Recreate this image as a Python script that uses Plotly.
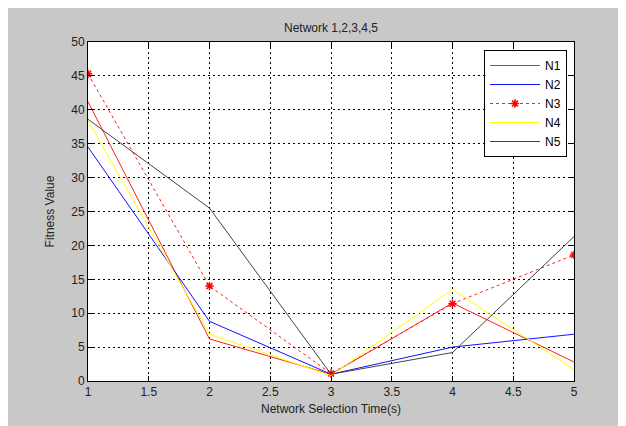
import plotly.graph_objects as go

x_vals = [1, 2, 3, 4, 5]
n1 = [41.2, 6.2, 1.0, 11.5, 2.8]
n2 = [34.5, 8.8, 1.0, 5.0, 6.9]
n3 = [45.3, 14.0, 1.1, 11.4, 18.6]
n4 = [38.4, 6.9, 0.8, 13.5, 1.7]
n5 = [38.6, 25.5, 1.0, 4.2, 21.3]
x_ticks = [1, 1.5, 2, 2.5, 3, 3.5, 4, 4.5, 5]
x_tick_text = ["1", "1.5", "2", "2.5", "3", "3.5", "4", "4.5", "5"]
y_ticks = [0, 5, 10, 15, 20, 25, 30, 35, 40, 45, 50]

FONT = "Liberation Sans, Arial, sans-serif"

fig = go.Figure()
fig.add_trace(go.Scatter(x=x_vals, y=n1, name="N1", mode="lines",
                         line=dict(color="#ff2020", width=1)))
fig.add_trace(go.Scatter(x=x_vals, y=n2, name="N2", mode="lines",
                         line=dict(color="#1010ff", width=1)))
fig.add_trace(go.Scatter(x=x_vals, y=n3, name="N3", mode="lines+markers",
                         line=dict(color="#ff2020", width=1, dash="3px,3px"),
                         marker=dict(symbol="asterisk-open", size=7,
                                     color="#ff0000",
                                     line=dict(color="#ff0000", width=1.5))))
fig.add_trace(go.Scatter(x=x_vals, y=n4, name="N4", mode="lines",
                         line=dict(color="#ffff00", width=1)))
fig.add_trace(go.Scatter(x=x_vals, y=n5, name="N5", mode="lines",
                         line=dict(color="#444444", width=1)))

# page body has an 8px margin, so the figure starts at (8, 8) in the window
OFF = 8
W, H = 626 - OFF, 426 - OFF
L, R, T, B = 88 - OFF, 52, 42 - OFF, 45
pw = W - L - R
ph = H - T - B

axis_common = dict(
    showgrid=True, gridcolor="#000000", griddash="2px,3px", gridwidth=1,
    zeroline=False, showline=True, linecolor="#000000", linewidth=1,
    mirror="allticks", ticks="inside", ticklen=5, tickcolor="#000000",
    tickfont=dict(family=FONT, size=12, color="#222222"),
)

fig.update_layout(
    width=W, height=H,
    margin=dict(l=L, r=R, t=T, b=B),
    paper_bgcolor="#c8c8c8",
    plot_bgcolor="#ffffff",
    title=dict(text="Network 1,2,3,4,5", x=(L + pw / 2) / W, xanchor="center",
               y=1 - (28 - OFF) / H, yanchor="middle",
               font=dict(family=FONT, size=12, color="#222222")),
    xaxis=dict(range=[1, 5], tickvals=x_ticks, ticktext=x_tick_text,
               title=dict(text="Network Selection Time(s)", standoff=6,
                          font=dict(family=FONT, size=12, color="#222222")),
               **axis_common),
    yaxis=dict(range=[0, 50], tickvals=y_ticks,
               title=dict(text="Fitness Value", standoff=14,
                          font=dict(family=FONT, size=12, color="#222222")),
               **axis_common),
    legend=dict(x=(484 - OFF - L) / pw, y=1 - (50 - OFF - T) / ph,
                xanchor="left", yanchor="top",
                bgcolor="#ffffff", bordercolor="#000000", borderwidth=1,
                font=dict(family=FONT, size=12, color="#000000"),
                tracegroupgap=0, itemwidth=50),
    showlegend=True,
)

fig.write_html("out.html")
